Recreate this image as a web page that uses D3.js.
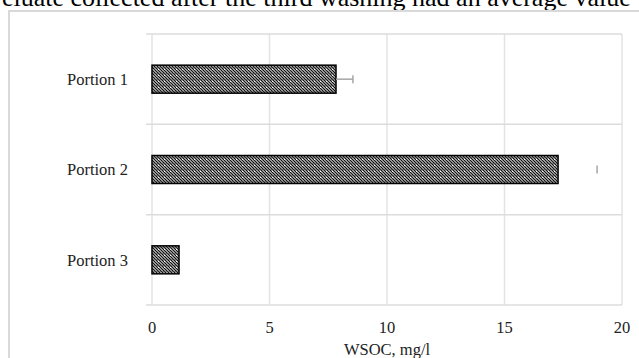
<!DOCTYPE html>
<html>
<head>
<meta charset="utf-8">
<script src="https://cdn.jsdelivr.net/npm/d3@7"></script>
<style>
  body { margin: 0; background: #fff; overflow: hidden; }
  svg { display: block; font-family: "Liberation Serif", "DejaVu Serif", serif; }
</style>
</head>
<body>
<div id="chart"></div>
<script>
// data
const categories = ["Portion 1", "Portion 2", "Portion 3"];
const wsoc = [7.83, 17.28, 1.15];
const wsocErr = [0.72, 1.66, 0.0];
const xTicks = [0, 5, 10, 15, 20];
const xLabel = "WSOC, mg/l";
const captionText = "eluate collected after the third washing had an average value";

var W = 639, H = 358;
var margin = {top: 34, right: 17, bottom: 53, left: 152},
    width = W - margin.left - margin.right,
    height = H - margin.top - margin.bottom;

var svg = d3.select("#chart")
  .append("svg")
    .attr("width", W)
    .attr("height", H);

// pattern like the excel fill
var defs = svg.append("defs");
var pat = defs.append("pattern")
    .attr("id", "hatch")
    .attr("patternUnits", "userSpaceOnUse")
    .attr("width", 6)
    .attr("height", 6);
pat.append("rect").attr("width", 6).attr("height", 6).attr("fill", "#fff");
pat.append("path")
    .attr("d", "M-1,-1 L7,7 M-4,-1 L4,7 M2,-1 L10,7 M-1,2 L5,8 M2,-4 L10,4")
    .attr("stroke", "#111").attr("stroke-width", 1.3);
pat.append("rect").attr("x", 0).attr("y", 3).attr("width", 6).attr("height", 1)
    .attr("fill", "#444").attr("opacity", 0.4);

// text from the page above the figure (cut off at the top, as in the source)
svg.append("text")
    .attr("x", 2)
    .attr("y", 6)
    .style("font-size", "26px")
    .attr("fill", "#000")
    .text(captionText);

// chart frame
svg.append("rect")
    .attr("x", 9).attr("y", 11)
    .attr("width", 660).attr("height", 380)
    .attr("fill", "none")
    .attr("stroke", "#d9d9d9")
    .attr("stroke-width", 2);

var g = svg.append("g")
    .attr("transform", "translate(" + margin.left + "," + margin.top + ")");

var x = d3.scaleLinear().domain([0, 20]).range([0, width]);
var y = d3.scaleBand().domain(categories).range([0, height]).paddingInner(0.69).paddingOuter(0.345);
var yb = d3.scaleBand().domain(categories).range([0, height]);

// vertical gridlines
g.append("g")
  .selectAll("line")
  .data(xTicks)
  .enter().append("line")
    .attr("x1", d => x(d)).attr("x2", d => x(d))
    .attr("y1", 0).attr("y2", height)
    .attr("stroke", "#e3e3e3")
    .attr("stroke-width", 1.5);

// category separators with ticks
var seps = [0].concat(categories.map(c => yb(c) + yb.bandwidth()));
g.append("g")
  .selectAll("line")
  .data(seps)
  .enter().append("line")
    .attr("x1", -6).attr("x2", width)
    .attr("y1", d => d).attr("y2", d => d)
    .attr("stroke", "#dcdcdc")
    .attr("stroke-width", 1.5);

// bars
g.append("g")
  .selectAll("rect")
  .data(wsoc)
  .enter().append("rect")
    .attr("x", x(0))
    .attr("y", (d, i) => y(categories[i]))
    .attr("width", d => x(d) - x(0))
    .attr("height", y.bandwidth())
    .attr("fill", "url(#hatch)")
    .attr("stroke", "#000")
    .attr("stroke-width", 1.5);

// error bars (only the first has a visible stem)
var eb = g.append("g").attr("stroke", "#a6a6a6").attr("stroke-width", 1.5);
wsoc.forEach(function(v, i) {
  if (wsocErr[i] <= 0) return;
  var cy = y(categories[i]) + y.bandwidth() / 2;
  if (i === 0) {
    eb.append("line")
      .attr("x1", x(v)).attr("x2", x(v + wsocErr[i]))
      .attr("y1", cy).attr("y2", cy);
  }
  eb.append("line")
    .attr("x1", x(v + wsocErr[i])).attr("x2", x(v + wsocErr[i]))
    .attr("y1", cy - 4).attr("y2", cy + 4);
});

// category labels
g.append("g")
  .selectAll("text")
  .data(categories)
  .enter().append("text")
    .attr("x", -24)
    .attr("y", d => yb(d) + yb.bandwidth() / 2)
    .attr("dy", "0.35em")
    .attr("text-anchor", "end")
    .style("font-size", "16.5px")
    .attr("fill", "#222")
    .text(d => d);

// x tick labels
g.append("g")
  .selectAll("text")
  .data(xTicks)
  .enter().append("text")
    .attr("x", d => x(d))
    .attr("y", height + 28)
    .attr("text-anchor", "middle")
    .style("font-size", "16.5px")
    .attr("fill", "#222")
    .text(d => d);

// axis title
g.append("text")
    .attr("x", width / 2)
    .attr("y", height + 50)
    .attr("text-anchor", "middle")
    .style("font-size", "16.5px")
    .attr("fill", "#222")
    .text(xLabel);
</script>
</body>
</html>
